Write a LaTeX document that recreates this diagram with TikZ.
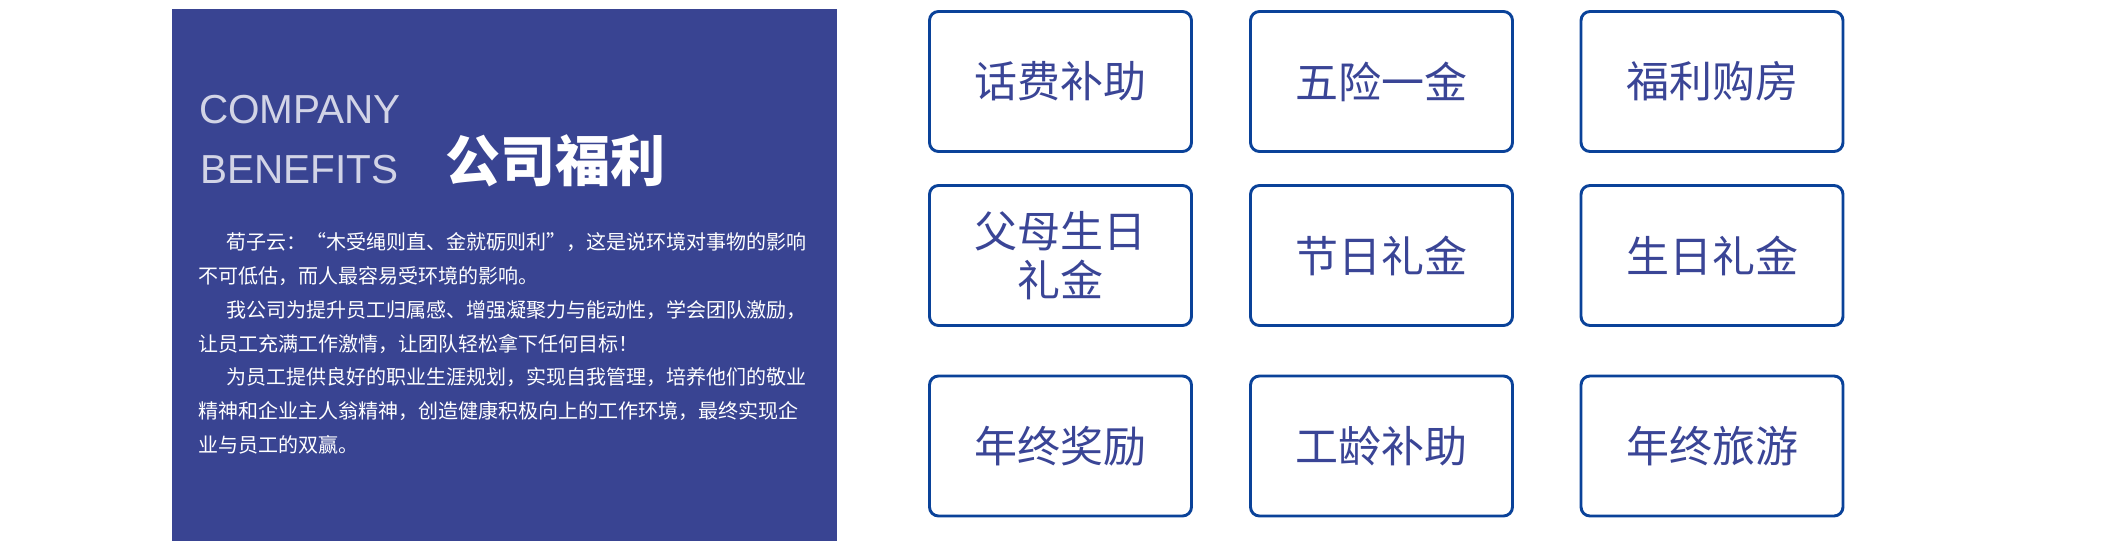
\documentclass[tikz,border=0pt]{standalone}
\usepackage{fontspec}
\setmainfont{Liberation Sans}
\newfontfamily\cjk{Noto Sans CJK SC}
\definecolor{panelblue}{RGB}{57,68,146}
\definecolor{borderblue}{RGB}{10,66,153}
\definecolor{labelblue}{RGB}{58,69,150}
\definecolor{engrey}{RGB}{210,212,230}
\begin{document}
\begin{tikzpicture}[x=1pt, y=-1pt,
    benefit/.style={draw=borderblue, line width=2.9pt, rounded corners=9pt,
        minimum width=262pt, minimum height=140pt, inner sep=0pt,
        text=labelblue, align=center, font=\cjk\fontsize{43}{49.5}\selectfont},
    introline/.style={anchor=base west, inner sep=0pt, text=white,
        font=\cjk\fontsize{20}{24}\selectfont},
    entitle/.style={anchor=base west, inner sep=0pt, text=engrey,
        font=\fontsize{40.5}{44}\selectfont}]
    \useasboundingbox (0, 0) rectangle (2103, 559);
    \fill[white] (0, 0) rectangle (2103, 559);
    \begin{scope}[shift={(172, 9)}]
        \fill[panelblue] (0, 0) -- (665, 0) -- (665, 532) -- (0, 532) -- cycle;
        \node[entitle] (company) at (27, 115) {COMPANY};
        \node[entitle] (benefits) at (28, 174) {BENEFITS};
        \node[text=white, inner sep=0pt, font=\cjk\bfseries\fontsize{55}{60}\selectfont]
            (title) at (383, 152) {公司福利};
        \node[introline] (l1) at (54, 240.6) {荀子云：“木受绳则直、金就砺则利”，这是说环境对事物的影响};
        \node[introline] (l2) at (26, 274.4) {不可低估，而人最容易受环境的影响。};
        \node[introline] (l3) at (54, 308.2) {我公司为提升员工归属感、增强凝聚力与能动性，学会团队激励，};
        \node[introline] (l4) at (26, 342.0) {让员工充满工作激情，让团队轻松拿下任何目标！};
        \node[introline] (l5) at (54, 375.8) {为员工提供良好的职业生涯规划，实现自我管理，培养他们的敬业};
        \node[introline] (l6) at (26, 409.6) {精神和企业主人翁精神，创造健康积极向上的工作环境，最终实现企};
        \node[introline] (l7) at (26, 443.4) {业与员工的双赢。};
    \end{scope}
    \node[benefit] (phone) at (1060.5, 81.5) {话费补助};
    \node[benefit] (insurance) at (1381.5, 81.5) {五险一金};
    \node[benefit] (housing) at (1712, 81.5) {福利购房};
    \node[benefit] (parents) at (1060.5, 255.5) {父母生日\\礼金};
    \node[benefit] (festival) at (1381.5, 255.5) {节日礼金};
    \node[benefit] (birthday) at (1712, 255.5) {生日礼金};
    \node[benefit] (bonus) at (1060.5, 446) {年终奖励};
    \node[benefit] (seniority) at (1381.5, 446) {工龄补助};
    \node[benefit] (travel) at (1712, 446) {年终旅游};
\end{tikzpicture}
\end{document}
